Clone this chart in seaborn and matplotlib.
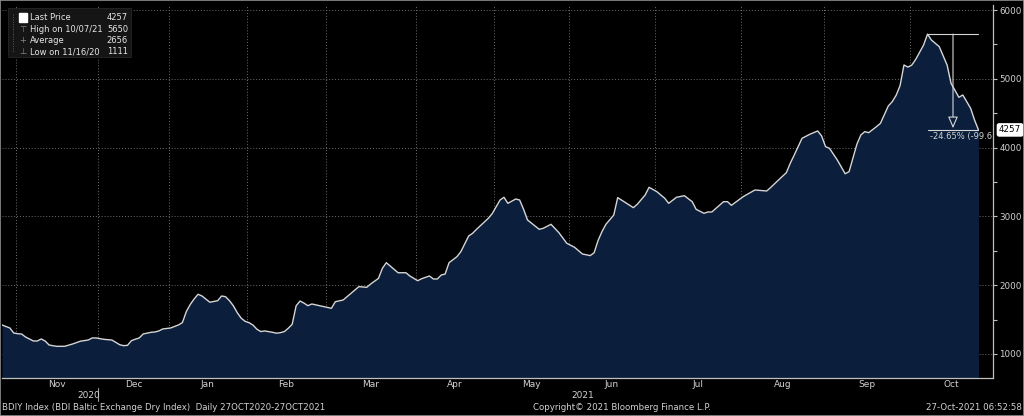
import numpy as np
import pandas as pd
import matplotlib
matplotlib.use("Agg")
import matplotlib.pyplot as plt
import matplotlib.transforms as mtransforms
from matplotlib.patches import Rectangle
import seaborn as sns

# BDIY daily closes (trading days only)
dates = [
    "2020-10-27", "2020-10-29", "2020-10-30", "2020-11-02", "2020-11-03", "2020-11-04",
    "2020-11-06", "2020-11-09", "2020-11-10", "2020-11-11", "2020-11-12", "2020-11-13",
    "2020-11-16", "2020-11-17", "2020-11-18", "2020-11-20", "2020-11-24", "2020-11-26",
    "2020-11-27", "2020-11-30", "2020-12-02", "2020-12-04", "2020-12-07", "2020-12-08",
    "2020-12-09", "2020-12-10", "2020-12-11", "2020-12-14", "2020-12-15", "2020-12-16",
    "2020-12-18", "2020-12-21", "2020-12-22", "2020-12-23", "2021-01-04", "2021-01-06",
    "2021-01-07", "2021-01-08", "2021-01-11", "2021-01-12", "2021-01-13", "2021-01-14",
    "2021-01-18", "2021-01-20", "2021-01-21", "2021-01-22", "2021-01-25", "2021-01-26",
    "2021-01-27", "2021-01-28", "2021-01-29", "2021-02-01", "2021-02-02", "2021-02-03",
    "2021-02-04", "2021-02-05", "2021-02-09", "2021-02-10", "2021-02-11", "2021-02-12",
    "2021-02-15", "2021-02-16", "2021-02-17", "2021-02-18", "2021-02-19", "2021-02-22",
    "2021-02-23", "2021-02-25", "2021-03-02", "2021-03-03", "2021-03-05", "2021-03-09",
    "2021-03-11", "2021-03-15", "2021-03-16", "2021-03-18", "2021-03-19", "2021-03-22",
    "2021-03-24", "2021-03-25", "2021-03-29", "2021-03-30", "2021-04-01", "2021-04-06",
    "2021-04-08", "2021-04-09", "2021-04-12", "2021-04-13", "2021-04-14", "2021-04-15",
    "2021-04-19", "2021-04-20", "2021-04-22", "2021-04-23", "2021-04-26", "2021-04-29",
    "2021-04-30", "2021-05-05", "2021-05-06", "2021-05-07", "2021-05-11", "2021-05-12",
    "2021-05-13", "2021-05-14", "2021-05-19", "2021-05-20", "2021-05-24", "2021-05-26",
    "2021-05-28", "2021-06-02", "2021-06-04", "2021-06-08", "2021-06-09", "2021-06-10",
    "2021-06-11", "2021-06-14", "2021-06-16", "2021-06-17", "2021-06-21", "2021-06-23",
    "2021-06-24", "2021-06-28", "2021-06-29", "2021-07-01", "2021-07-05", "2021-07-06",
    "2021-07-08", "2021-07-12", "2021-07-14", "2021-07-15", "2021-07-19", "2021-07-20",
    "2021-07-21", "2021-07-26", "2021-07-27", "2021-07-28", "2021-08-02", "2021-08-05",
    "2021-08-10", "2021-08-11", "2021-08-13", "2021-08-17", "2021-08-18", "2021-08-19",
    "2021-08-20", "2021-08-23", "2021-08-25", "2021-08-27", "2021-08-31", "2021-09-01",
    "2021-09-02", "2021-09-06", "2021-09-08", "2021-09-09", "2021-09-10", "2021-09-13",
    "2021-09-14", "2021-09-15", "2021-09-16", "2021-09-20", "2021-09-21", "2021-09-23",
    "2021-09-24", "2021-09-27", "2021-09-28", "2021-09-29", "2021-09-30", "2021-10-01",
    "2021-10-04", "2021-10-06", "2021-10-07", "2021-10-08", "2021-10-12", "2021-10-14",
    "2021-10-15", "2021-10-19", "2021-10-20", "2021-10-22", "2021-10-25", "2021-10-26",
]
values = [
    1422, 1378, 1305, 1295, 1290, 1247,
    1189, 1189, 1218, 1189, 1131, 1120,
    1111, 1112, 1112, 1145, 1186, 1203,
    1233, 1233, 1213, 1203, 1170, 1135,
    1121, 1126, 1193, 1215, 1233, 1291,
    1315, 1320, 1335, 1364, 1378, 1422,
    1456, 1616, 1720, 1800, 1868, 1843,
    1752, 1775, 1843, 1833, 1775, 1700,
    1600, 1520, 1475, 1455, 1420, 1360,
    1326, 1335, 1315, 1302, 1310, 1326,
    1374, 1432, 1700, 1770, 1740, 1702,
    1727, 1702, 1664, 1760, 1785, 1882,
    1979, 1969, 2017, 2099, 2245, 2327,
    2230, 2181, 2181, 2134, 2065, 2094,
    2134, 2090, 2090, 2148, 2162, 2327,
    2414, 2487, 2715, 2754, 2812, 2972,
    3040, 3238, 3278, 3190, 3253, 3238,
    3103, 2948, 2812, 2827, 2885, 2764,
    2610, 2551, 2454, 2430, 2473, 2650,
    2780, 2885, 3020, 3273, 3200, 3127,
    3176, 3311, 3423, 3359, 3263, 3190,
    3278, 3301, 3214, 3103, 3045, 3064,
    3064, 3214, 3214, 3161, 3287, 3384,
    3369, 3420, 3529, 3635, 3772, 3890,
    4014, 4135, 4194, 4242, 4169, 4014,
    3990, 3820, 3620, 3650, 3850, 4050,
    4183, 4232, 4217, 4305, 4353, 4605,
    4667, 4760, 4900, 5201, 5170, 5200,
    5283, 5491, 5650, 5564, 5467, 5200,
    4934, 4731, 4765, 4571, 4400, 4257,
]
# days without a published index
holidays = ["2020-12-25", "2020-12-28", "2020-12-29", "2020-12-30", "2020-12-31",
            "2021-01-01", "2021-04-02", "2021-04-05", "2021-05-03", "2021-05-31",
            "2021-08-30"]
month_names = ["Nov", "Dec", "Jan", "Feb", "Mar", "Apr", "May", "Jun", "Jul",
               "Aug", "Sep", "Oct"]
year_labels = ["2020", "2021"]
year_label_dates = ["2020-11-26", "2021-06-04"]
legend_labels = ["Last Price", "High on 10/07/21", "Average", "Low on 11/16/20"]
legend_values = ["4257", "5650", "2656", "1111"]
y_ticks = [1000, 2000, 3000, 4000, 5000, 6000]
y_minor = [1500, 2500, 3500, 4500, 5500]

NAVY = "#0b1f3d"
LINE = "#d6d6d6"
TXT = "#d2d2d2"
GRID = "#6e6e6e"

sns.set_style("dark", {"axes.facecolor": "black", "figure.facecolor": "black"})
plt.rcParams["font.family"] = ["DejaVu Sans"]

cal = pd.bdate_range("2020-10-27", "2021-10-27", freq="C", holidays=holidays)
df = pd.DataFrame({"date": pd.to_datetime(dates), "value": values})
df["pos"] = cal.searchsorted(df["date"])

W, H = 1024, 416
fig = plt.figure(figsize=(W / 100, H / 100), dpi=100, facecolor="black")
ax = fig.add_axes([2 / W, 1 - 378 / H, 991 / W, 373 / H])
ax.set_facecolor("black")

x_max = 252.7
y_lo, y_hi = 651, 6073
ax.set_xlim(0, x_max)
ax.set_ylim(y_lo, y_hi)

ax.fill_between(df["pos"], df["value"], y_lo, color=NAVY, lw=0, zorder=1)
sns.lineplot(data=df, x="pos", y="value", ax=ax, color=LINE, lw=1.0, zorder=3)

# month boundaries on the trading-day axis
months = cal.to_period("M")
first = np.flatnonzero(np.r_[True, months[1:] != months[:-1]])
bounds = first[1:] - 0.5
centers = (np.r_[bounds] + np.r_[bounds[1:], x_max]) / 2
ax.set_xticks(bounds)
ax.set_xticklabels([""] * len(bounds))
ax.set_xticks(centers, minor=True)
ax.set_xticklabels(month_names, minor=True)
ax.tick_params(axis="x", which="major", direction="inout", length=4, width=0.8,
               color="#bfbfbf")
ax.tick_params(axis="x", which="minor", length=0, pad=1.5, labelsize=6.5,
               labelcolor=TXT)

ax.yaxis.tick_right()
ax.set_yticks(y_ticks)
ax.set_yticks(y_minor, minor=True)
ax.tick_params(axis="y", which="both", direction="out", length=3, width=0.8,
               color="#bfbfbf", labelsize=6.3, labelcolor=TXT, pad=1.5)
ax.set_xlabel("")
ax.set_ylabel("")
ax.grid(True, which="major", ls=(0, (1, 2)), color=GRID, lw=0.7, zorder=2)

for s in ["left", "top"]:
    ax.spines[s].set_visible(False)
for s in ["right", "bottom"]:
    ax.spines[s].set_color("#bfbfbf")
    ax.spines[s].set_linewidth(0.9)

# drawdown annotation from high to last price
i_hi = int(np.argmax(df["value"]))
hi_pos, hi_val = df["pos"].iloc[i_hi], df["value"].iloc[i_hi]
last_pos, last_val = df["pos"].iloc[-1], df["value"].iloc[-1]
mid = (hi_pos + last_pos) / 2
ax.plot([hi_pos, last_pos], [hi_val, hi_val], color=LINE, lw=0.8, zorder=4)
ax.plot([hi_pos, last_pos], [last_val, last_val], color=LINE, lw=0.8, zorder=4)
ax.annotate("", xy=(mid, last_val + 25), xytext=(mid, hi_val),
            arrowprops=dict(arrowstyle="-|>,head_length=0.7,head_width=0.3",
                            color=LINE, fc=NAVY, lw=0.8, shrinkA=0, shrinkB=0),
            zorder=4)
pct = (last_val - hi_val) / hi_val * 100
ax.annotate(f"{pct:.2f}% (-99.6", xy=(hi_pos + 0.6, last_val), xytext=(0, -1.5),
            textcoords="offset points", ha="left", va="top", fontsize=6.0,
            color=TXT, annotation_clip=False, clip_on=True, zorder=5)

blend = mtransforms.blended_transform_factory(ax.transAxes, ax.transData)
ax.text(1.006, last_val, legend_values[0], transform=blend, ha="left", va="center",
        fontsize=6.3, color="black", clip_on=False, zorder=6,
        bbox=dict(boxstyle="round,pad=0.18,rounding_size=0.2", fc="white", ec="white"))

# year row under the months
yblend = mtransforms.blended_transform_factory(ax.transData, fig.transFigure)
for lab, d in zip(year_labels, year_label_dates):
    xp = cal.searchsorted(pd.Timestamp(d))
    ax.text(xp, 1 - 395 / H, lab, transform=yblend, ha="center", va="center",
            fontsize=6.5, color=TXT, clip_on=False)
ax.plot([bounds[1], bounds[1]], [1 - 388 / H, 1 - 401 / H], transform=yblend,
        color="#9a9a9a", lw=0.8, clip_on=False)

# legend panel (figure pixels)
def fx(px):
    return px / W

def fy(py):
    return 1 - py / H

fig.patches.append(Rectangle((fx(8), fy(57)), fx(123), 49 / H, transform=fig.transFigure,
                             fc="#151515", ec="#262626", lw=0.6, zorder=5))
fig.lines.append(plt.Line2D([fx(13), fx(13)], [fy(14), fy(52)], transform=fig.transFigure,
                            color="#5a5a5a", lw=0.7, ls=(0, (1, 1.5)), zorder=6))
rows = [17, 29, 40.5, 52]
symbols = ["", "\u22a4", "+", "\u22a5"]
for r, lab, val, sym in zip(rows, legend_labels, legend_values, symbols):
    fig.text(fx(30), fy(r), lab, ha="left", va="center", fontsize=6.0, color="#e6e6e6",
             zorder=7)
    fig.text(fx(128), fy(r), val, ha="right", va="center", fontsize=6.0, color="#e6e6e6",
             zorder=7)
    if sym:
        fig.text(fx(23), fy(r), sym, ha="center", va="center", fontsize=6, color="#8a8a8a",
                 zorder=7)
fig.patches.append(Rectangle((fx(19), fy(21.5)), fx(8), 8 / H, transform=fig.transFigure,
                             fc="white", ec="white", zorder=7))

# footer
fig.text(fx(2), fy(407), "BDIY Index (BDI Baltic Exchange Dry Index)  Daily 27OCT2020-27OCT2021",
         ha="left", va="center", fontsize=6.2, color=TXT)
fig.text(fx(622), fy(407), "Copyright\u00a9 2021 Bloomberg Finance L.P.", ha="center",
         va="center", fontsize=6.2, color=TXT)
fig.text(fx(1022), fy(407), "27-Oct-2021 06:52:58", ha="right", va="center",
         fontsize=6.2, color=TXT)

fig.patches.append(Rectangle((0, 0), 1, 1, transform=fig.transFigure, fill=False,
                             ec="#8f8f8f", lw=1.2, zorder=10))

fig.savefig("out.png", dpi=100, facecolor="black")
